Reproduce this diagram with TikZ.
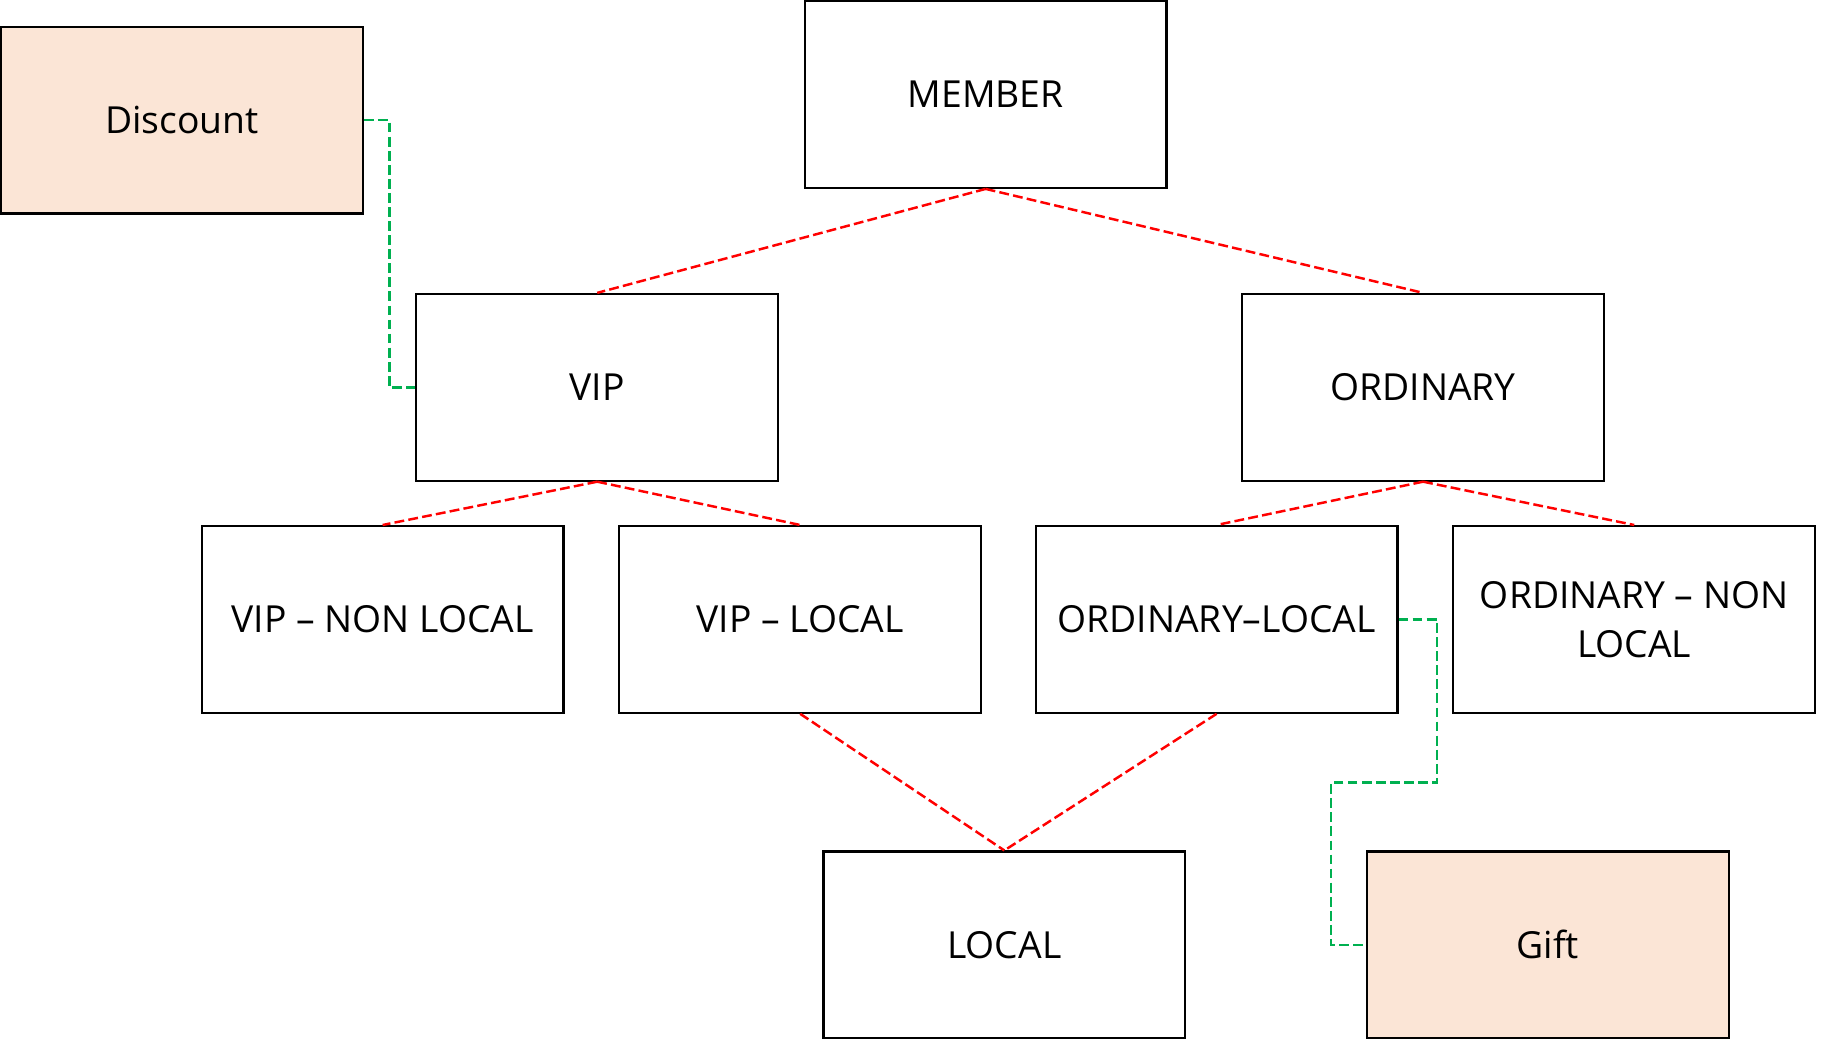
\documentclass[tikz,border=0pt]{standalone}
\usepackage{fontspec}
\setmainfont{Open Sans}
\definecolor{peach}{HTML}{FBE5D6}
\definecolor{linkgreen}{HTML}{00B050}
\begin{document}
\begin{tikzpicture}[x=0.01166cm,y=-0.01166cm,
		box/.style={draw,line width=0.6pt,minimum width=3.615cm,minimum height=1.866cm,inner sep=0pt,align=center,font=\fontsize{10.6}{14}\selectfont},
		extra/.style={box,fill=peach},
		tree/.style={red,line width=0.7pt,dash pattern=on 2.8pt off 1.2pt},
		link/.style={linkgreen,line width=0.7pt,dash pattern=on 2.8pt off 1.2pt}]
		\useasboundingbox (0,0) rectangle (1568,890.8);
		
		\node[extra] (discount) at (156,103) {Discount};
		\node[box] (member) at (845,81) {MEMBER};
		\node[box] (vip) at (512,332) {VIP};
		\node[box] (ordinary) at (1220,332) {ORDINARY};
		\node[box] (vipnonlocal) at (328,531) {VIP -- NON LOCAL};
		\node[box] (viplocal) at (686,531) {VIP -- LOCAL};
		\node[box] (ordlocal) at (1043,531) {ORDINARY--LOCAL};
		\node[box] (ordnonlocal) at (1401,531) {ORDINARY -- NON\\LOCAL};
		\node[box] (local) at (861,810) {LOCAL};
		\node[extra] (gift) at (1327,810) {Gift};
		
		\draw[tree] (member.south) -- (vip.north);
		\draw[tree] (member.south) -- (ordinary.north);
		\draw[tree] (vip.south) -- (vipnonlocal.north);
		\draw[tree] (vip.south) -- (viplocal.north);
		\draw[tree] (ordinary.south) -- (ordlocal.north);
		\draw[tree] (ordinary.south) -- (ordnonlocal.north);
		\draw[tree] (viplocal.south) -- (local.north);
		\draw[tree] (ordlocal.south) -- (local.north);
		
		\draw[link] (discount.east) -- ++(22,0) |- (vip.west);
		\draw[link] (ordlocal.east) -- ++(33,0) -- ++(0,140) -- ++(-91,0) |- (gift.west);
		
	\end{tikzpicture}
\end{document}
